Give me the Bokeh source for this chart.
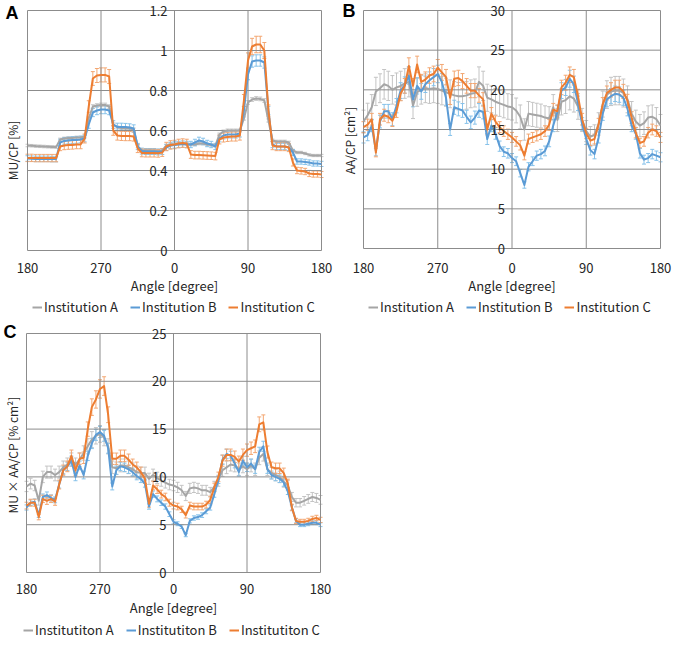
import math
from bokeh.plotting import figure
from bokeh.models import (Range1d, ColumnDataSource, LabelSet, Label,
                          Whisker, TeeHead, Legend, LegendItem)
from bokeh.core.properties import value
from bokeh.layouts import row, column
from bokeh.embed import file_html
from bokeh.resources import INLINE

FONT = "Noto Sans CJK JP"

# gantry angle, unwrapped: 180 -> 270 -> 360 (=0) -> 450 (=90) -> 540 (=180)
angles = list(range(180, 541, 5))
x_ticks = [180, 270, 360, 450, 540]
x_tick_labels = ["180", "270", "0", "90", "180"]

# ---------------- Panel A: MU/CP [%] ----------------
A_ticks = [0, 0.2, 0.4, 0.6, 0.8, 1.0, 1.2]
A_tick_labels = ["0", "0.2", "0.4", "0.6", "0.8", "1", "1.2"]
A_inst_a = [0.525, 0.524, 0.522, 0.521, 0.520, 0.519, 0.518, 0.517, 0.555, 0.560, 0.562, 0.563,
            0.565, 0.565, 0.570, 0.660, 0.720, 0.725, 0.728, 0.728, 0.720, 0.630, 0.615, 0.612,
            0.610, 0.610, 0.605, 0.520, 0.500, 0.500, 0.500, 0.499, 0.498, 0.500, 0.525, 0.530,
            0.532, 0.535, 0.535, 0.533, 0.530, 0.530, 0.535, 0.535, 0.530, 0.528, 0.525, 0.580,
            0.595, 0.600, 0.600, 0.600, 0.600, 0.660, 0.740, 0.755, 0.760, 0.758, 0.750, 0.650,
            0.550, 0.545, 0.545, 0.545, 0.540, 0.500, 0.490, 0.490, 0.485, 0.478, 0.475, 0.475, 0.475]
A_inst_b = [0.460, 0.459, 0.458, 0.458, 0.458, 0.458, 0.457, 0.457, 0.540, 0.548, 0.550, 0.552,
            0.553, 0.555, 0.560, 0.630, 0.690, 0.700, 0.705, 0.705, 0.700, 0.630, 0.618, 0.618,
            0.617, 0.615, 0.610, 0.520, 0.497, 0.495, 0.495, 0.495, 0.493, 0.495, 0.515, 0.525,
            0.528, 0.530, 0.532, 0.530, 0.530, 0.540, 0.550, 0.545, 0.535, 0.530, 0.520, 0.560,
            0.575, 0.580, 0.580, 0.580, 0.585, 0.700, 0.880, 0.945, 0.950, 0.950, 0.940, 0.700,
            0.530, 0.520, 0.520, 0.520, 0.515, 0.490, 0.445, 0.445, 0.443, 0.440, 0.435, 0.435, 0.433]
A_inst_c = [0.463, 0.463, 0.462, 0.462, 0.462, 0.462, 0.462, 0.462, 0.520, 0.525, 0.527, 0.528,
            0.530, 0.530, 0.560, 0.720, 0.860, 0.875, 0.878, 0.878, 0.870, 0.600, 0.575, 0.573,
            0.572, 0.572, 0.570, 0.510, 0.488, 0.487, 0.487, 0.487, 0.486, 0.490, 0.520, 0.528,
            0.530, 0.535, 0.537, 0.535, 0.480, 0.477, 0.477, 0.476, 0.475, 0.474, 0.472, 0.555,
            0.565, 0.568, 0.570, 0.570, 0.575, 0.750, 0.950, 1.020, 1.030, 1.030, 1.000, 0.700,
            0.525, 0.520, 0.520, 0.520, 0.515, 0.440, 0.400, 0.398, 0.395, 0.385, 0.382, 0.382, 0.380]
A_rel_err = [0.012, 0.03, 0.04]

# ---------------- Panel B: AA/CP [cm2] ----------------
B_ticks = [0, 5, 10, 15, 20, 25, 30]
B_tick_labels = ["0", "5", "10", "15", "20", "25", "30"]
B_inst_a = [16.0, 16.8, 17.8, 19.8, 20.2, 20.7, 20.5, 20.0, 20.3, 20.5, 20.8, 21.0,
            18.0, 19.7, 20.0, 20.2, 20.1, 20.2, 20.1, 19.9, 19.7, 19.5, 19.3, 19.2,
            19.2, 19.3, 19.5, 19.6, 21.0, 20.5, 19.0, 18.8, 18.5, 18.3, 18.1, 17.9,
            17.8, 17.4, 16.6, 15.0, 17.0, 16.9, 16.8, 16.7, 16.5, 16.4, 17.8, 16.2,
            18.5, 18.7, 19.2, 18.9, 17.9, 16.2, 14.8, 14.1, 14.3, 15.7, 18.2, 19.4,
            19.8, 19.9, 19.9, 19.6, 18.8, 17.0, 16.0, 15.5, 15.8, 16.5, 16.6, 16.3, 15.5]
B_inst_b = [14.0, 14.3, 15.5, 12.3, 16.0, 17.3, 17.3, 16.3, 18.0, 19.9, 20.6, 21.8,
            18.8, 20.5, 19.8, 20.7, 21.2, 21.6, 22.0, 21.0, 19.0, 15.0, 17.8, 17.6,
            17.4, 16.6, 15.9, 16.5, 17.4, 17.2, 13.8, 15.5, 14.5, 12.9, 12.2, 12.0,
            11.4, 11.0, 9.5, 8.0, 10.3, 11.0, 11.7, 11.9, 12.3, 13.5, 15.5, 17.2,
            19.9, 20.3, 21.4, 20.7, 18.3, 15.7, 13.8, 12.4, 11.9, 14.0, 17.0, 18.8,
            19.2, 19.5, 19.4, 19.0, 17.6, 15.5, 14.5, 12.0, 11.2, 11.4, 11.9, 11.7, 11.5]
B_inst_c = [15.3, 15.6, 16.3, 12.1, 16.3, 16.8, 16.6, 16.1, 17.3, 19.5, 20.5, 23.0,
            20.5, 23.2, 21.0, 21.3, 21.8, 22.0, 22.8, 22.2, 21.6, 19.0, 21.4, 21.5,
            21.1, 20.5, 19.9, 19.9, 19.3, 18.8, 15.0, 17.0, 16.0, 15.3, 14.8, 14.4,
            14.0, 13.5, 13.0, 11.7, 13.8, 14.0, 14.2, 14.4, 14.8, 15.6, 17.5, 17.3,
            20.3, 20.9, 21.9, 21.6, 19.2, 16.3, 14.5, 13.6, 13.8, 15.7, 18.2, 19.6,
            20.0, 20.3, 20.3, 19.8, 18.6, 16.5, 14.6, 13.3, 13.5, 14.6, 15.0, 14.8, 14.0]
B_rel_err = [0.09, 0.05, 0.045]

# ---------------- Panel C: MU x AA/CP [% cm2] ----------------
C_ticks = [0, 5, 10, 15, 20, 25]
C_tick_labels = ["0", "5", "10", "15", "20", "25"]
C_inst_a = [9.0, 9.3, 9.1, 7.5, 10.0, 10.5, 10.5, 10.2, 10.5, 11.0, 11.3, 11.8,
            11.3, 11.8, 12.5, 13.2, 13.9, 14.3, 14.5, 14.1, 13.2, 11.0, 10.9, 11.2,
            11.2, 11.0, 10.8, 10.5, 10.4, 10.4, 9.8, 10.2, 9.9, 9.6, 9.4, 9.2,
            9.1, 8.9, 8.6, 8.0, 8.8, 8.9, 8.8, 8.6, 8.6, 8.4, 9.0, 9.6,
            10.7, 11.0, 11.3, 11.2, 10.8, 11.1, 10.8, 11.2, 10.8, 12.0, 12.4, 10.8,
            10.4, 10.2, 10.0, 9.5, 9.1, 7.9, 7.3, 7.3, 7.5, 7.7, 7.9, 7.8, 7.6]
C_inst_b = [6.8, 7.3, 7.4, 6.0, 7.9, 8.1, 7.8, 7.6, 9.2, 10.7, 11.1, 11.7,
            10.0, 11.2, 10.2, 12.2, 13.5, 14.4, 14.7, 14.3, 13.0, 9.0, 10.7, 11.1,
            11.0, 10.8, 10.5, 10.1, 9.8, 9.3, 6.9, 8.2, 7.7, 7.3, 6.9, 6.1,
            5.3, 5.1, 4.8, 3.9, 5.4, 5.7, 5.8, 6.0, 6.4, 6.8, 8.2, 9.7,
            11.8, 12.4, 12.2, 11.4, 10.5, 11.7, 11.0, 11.4, 10.8, 12.6, 13.2, 10.8,
            10.2, 10.0, 9.8, 9.4, 8.5, 6.8, 5.4, 5.0, 5.0, 5.1, 5.2, 5.2, 5.0]
C_inst_c = [7.0, 7.3, 7.3, 5.8, 7.7, 7.5, 7.7, 7.4, 9.2, 10.7, 11.1, 12.2,
            10.7, 11.9, 12.0, 15.0, 17.3, 18.1, 19.2, 19.5, 16.5, 11.9, 11.9, 12.2,
            12.2, 11.8, 11.3, 11.0, 10.5, 9.8, 7.2, 9.1, 8.7, 8.2, 7.9, 7.3,
            7.0, 6.9, 6.6, 6.0, 7.0, 6.9, 6.9, 6.9, 7.1, 7.6, 8.9, 10.0,
            11.7, 12.3, 12.3, 12.1, 11.6, 12.3, 12.8, 13.0, 13.2, 15.5, 15.7, 12.6,
            11.0, 10.9, 10.9, 10.4, 9.3, 6.8, 5.4, 5.3, 5.3, 5.4, 5.6, 5.7, 5.5]
C_rel_err = [0.06, 0.04, 0.05]

for s in (A_inst_a, A_inst_b, A_inst_c, B_inst_a, B_inst_b, B_inst_c, C_inst_a, C_inst_b, C_inst_c):
    assert len(s) == len(angles), len(s)

LINE_COLORS = ["#A5A5A5", "#5B9BD5", "#ED7D31"]
ERR_COLORS = ["#C4C4C4", "#86C2EA", "#F3A772"]
GRID = "#8C8C8C"
TXT = "#262626"


def make_panel(letter, ylabel, series, rel_err, names, yticks, ytick_labels, geo):
    W, H = geo["W"], geo["H"]
    bl, br, bt, bb = geo["box"]
    ymax = yticks[-1]
    xmin, xmax = x_ticks[0], x_ticks[-1]
    dpp = (xmax - xmin) / (br - bl)          # data units per pixel (x)
    vpp = (ymax - 0) / (bb - bt)             # data units per pixel (y)
    x_start = xmin - bl * dpp
    y_end = ymax + bt * vpp

    def X(px):
        return x_start + px * dpp

    def Y(py):
        return y_end - py * vpp

    p = figure(width=W, height=H, x_range=Range1d(x_start, x_start + W * dpp),
               y_range=Range1d(y_end - H * vpp, y_end),
               x_axis_location=None, y_axis_location=None,
               output_backend="svg", toolbar_location=None, min_border=0)
    p.grid.visible = False
    p.outline_line_color = None

    # plot box + gridlines
    p.segment(x0=[xmin] * len(yticks), x1=[xmax] * len(yticks), y0=yticks, y1=yticks,
              line_color=GRID, line_width=1)
    p.segment(x0=x_ticks, x1=x_ticks, y0=[0] * len(x_ticks), y1=[ymax] * len(x_ticks),
              line_color=GRID, line_width=1)

    # y tick labels drawn beside the 0-degree line
    ysrc = ColumnDataSource(dict(x=[x_ticks[2]] * len(yticks), y=yticks, t=ytick_labels))
    p.add_layout(LabelSet(x="x", y="y", text="t", source=ysrc, x_offset=-7,
                          text_align="right", text_baseline="middle",
                          text_font=value(FONT), text_font_size=value("13px"),
                          text_color=TXT))
    # x tick labels
    xsrc = ColumnDataSource(dict(x=x_ticks, y=[Y(geo["xtick_y"])] * len(x_ticks), t=x_tick_labels))
    p.add_layout(LabelSet(x="x", y="y", text="t", source=xsrc,
                          text_align="center", text_baseline="middle",
                          text_font=value(FONT), text_font_size=value("13px"),
                          text_color=TXT))
    # axis titles
    p.add_layout(Label(x=X((bl + br) / 2), y=Y(geo["xtitle_y"]), text="Angle [degree]",
                       text_align="center", text_baseline="middle",
                       text_font=FONT, text_font_size="13px", text_color=TXT))
    p.add_layout(Label(x=X(geo["ytitle_x"]), y=Y(geo["ytitle_y"]), text=ylabel, angle=math.pi / 2,
                       text_align="center", text_baseline="middle",
                       text_font=FONT, text_font_size="12px", text_color=TXT))
    # panel letter
    p.add_layout(Label(x=X(geo["letter"][0]), y=Y(geo["letter"][1]), text=letter,
                       text_align="left", text_baseline="middle",
                       text_font="Liberation Sans", text_font_style="bold",
                       text_font_size="18px", text_color="black"))

    items = []
    srcs = []
    for vals, re, lc, ec, nm in zip(series, rel_err, LINE_COLORS, ERR_COLORS, names):
        src = ColumnDataSource(dict(x=angles, y=vals,
                                    up=[v * (1 + re) for v in vals],
                                    lo=[v * (1 - re) for v in vals]))
        p.add_layout(Whisker(base="x", upper="up", lower="lo", source=src, dimension="height",
                             line_color=ec, line_width=1,
                             upper_head=TeeHead(size=4, line_color=ec, line_width=1),
                             lower_head=TeeHead(size=4, line_color=ec, line_width=1)))
        srcs.append((src, lc, nm))
    for src, lc, nm in srcs:
        r = p.line("x", "y", source=src, line_color=lc, line_width=2, line_join="round")
        items.append(LegendItem(label=nm, renderers=[r]))

    lx, ly = geo["legend"]          # left edge and vertical centre, in pixels
    leg = Legend(items=items, orientation="horizontal", location=(lx, H - ly - 7),
                 border_line_color=None, background_fill_alpha=0,
                 label_text_font=FONT, label_text_font_size="13px", label_text_color=TXT,
                 glyph_width=10, glyph_height=14, label_height=14, label_standoff=2,
                 spacing=12, padding=0, margin=0)
    p.add_layout(leg)
    return p


geoA = dict(W=337, H=318, box=(27, 321, 10, 250), xtick_y=267, xtitle_y=285,
            ytitle_x=12, ytitle_y=150, letter=(5, 12.5), legend=(32, 309))
geoB = dict(W=340, H=318, box=(26, 323, 10, 248), xtick_y=267, xtitle_y=285,
            ytitle_x=12, ytitle_y=140, letter=(5, 10.5), legend=(31, 309))
geoC = dict(W=337, H=327, box=(26, 320, 15, 254), xtick_y=270, xtitle_y=289,
            ytitle_x=12, ytitle_y=134, letter=(3, 13.5), legend=(23, 314))

names_ab = ["Institution A", "Institution B", "Institution C"]
names_c = ["Institutiton A", "Institutiton B", "Institutiton C"]

pA = make_panel("A", "MU/CP [%]", [A_inst_a, A_inst_b, A_inst_c], A_rel_err, names_ab,
                A_ticks, A_tick_labels, geoA)
pB = make_panel("B", "AA/CP [cm²]", [B_inst_a, B_inst_b, B_inst_c], B_rel_err, names_ab,
                B_ticks, B_tick_labels, geoB)
pC = make_panel("C", "MU  ×  AA/CP [% cm²]", [C_inst_a, C_inst_b, C_inst_c], C_rel_err, names_c,
                C_ticks, C_tick_labels, geoC)

layout = column(row(pA, pB), pC)
open("out.html", "w").write(file_html(layout, INLINE))
